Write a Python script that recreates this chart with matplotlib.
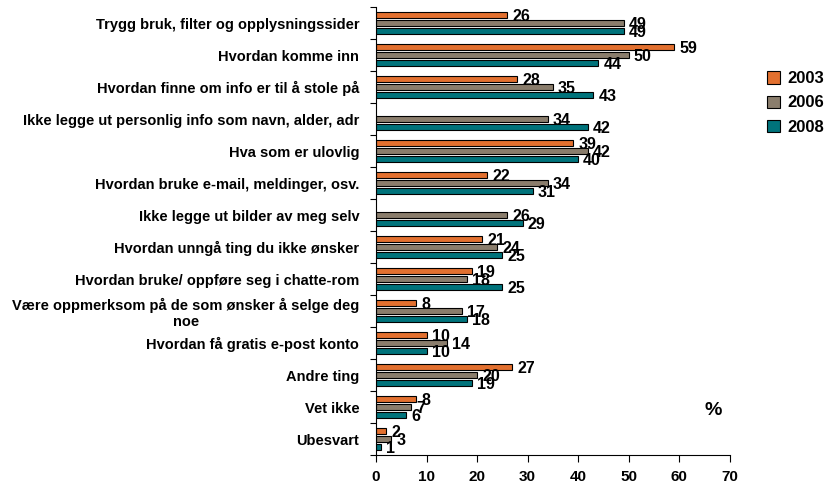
import matplotlib
matplotlib.use("Agg")
import matplotlib.pyplot as plt
from matplotlib.patches import Patch
import numpy as np

plt.rcParams['font.family'] = ['Liberation Sans', 'DejaVu Sans']
plt.rcParams['font.weight'] = 'bold'

categories = [
    "Trygg bruk, filter og opplysningssider",
    "Hvordan komme inn",
    "Hvordan finne om info er til å stole på",
    "Ikke legge ut personlig info som navn, alder, adr",
    "Hva som er ulovlig",
    "Hvordan bruke e-mail, meldinger, osv.",
    "Ikke legge ut bilder av meg selv",
    "Hvordan unngå ting du ikke ønsker",
    "Hvordan bruke/ oppføre seg i chatte-rom",
    "Være oppmerksom på de som ønsker å selge deg\nnoe",
    "Hvordan få gratis e-post konto",
    "Andre ting",
    "Vet ikke",
    "Ubesvart",
]
years = ["2003", "2006", "2008"]
v2003 = [26, 59, 28, None, 39, 22, None, 21, 19, 8, 10, 27, 8, 2]
v2006 = [49, 50, 35, 34, 42, 34, 26, 24, 18, 17, 14, 20, 7, 3]
v2008 = [49, 44, 43, 42, 40, 31, 29, 25, 25, 18, 10, 19, 6, 1]
colors = ["#E2702F", "#8A7D6C", "#00737B"]

fig = plt.figure(figsize=(8.31, 4.84), dpi=100)
ax = fig.add_axes([0.4525, 0.0599, 0.4255, 0.9256])

n = len(categories)
centers = np.arange(n) + 0.5
offsets = [-0.25, 0.0, 0.25]
bar_h = 0.21

for series, off, col in zip([v2003, v2006, v2008], offsets, colors):
    for c, v in zip(centers, series):
        if v is None:
            continue
        ax.barh(c + off, v, height=bar_h, color=col, edgecolor="black",
                linewidth=0.8)
        ax.text(v + 1.0, c + off + 0.06, str(v), ha="left", va="center",
                fontsize=11.5, fontweight="bold")

ax.set_ylim(n, 0)
ax.set_xlim(0, 70)
ax.set_yticks(np.arange(n + 1))
ax.set_yticklabels([])
ax.set_yticks(centers, minor=True)
ax.set_yticklabels(categories, minor=True, fontsize=10.5, fontweight="bold",
                   multialignment="center")
ax.tick_params(axis="y", which="minor", length=0, pad=12)
ax.tick_params(axis="y", which="major", length=4, width=0.8)
ax.set_xticks(np.arange(0, 71, 10))
ax.tick_params(axis="x", length=5, width=0.8, labelsize=11, pad=6)
for lab in ax.get_xticklabels():
    lab.set_fontweight("bold")

ax.spines["top"].set_visible(False)
ax.spines["right"].set_visible(False)

ax.text(66.8, 12.6, "%", fontsize=14, fontweight="bold", ha="center",
        va="center")

handles = [Patch(facecolor=c, edgecolor="black", linewidth=0.8)
           for c in colors]
fig.legend(handles, years, loc="upper left", bbox_to_anchor=(0.913, 0.87),
           frameon=False, fontsize=12, handlelength=0.75, handleheight=0.75,
           handletextpad=0.5, labelspacing=0.55, borderpad=0)

fig.savefig("out.png", dpi=100)
